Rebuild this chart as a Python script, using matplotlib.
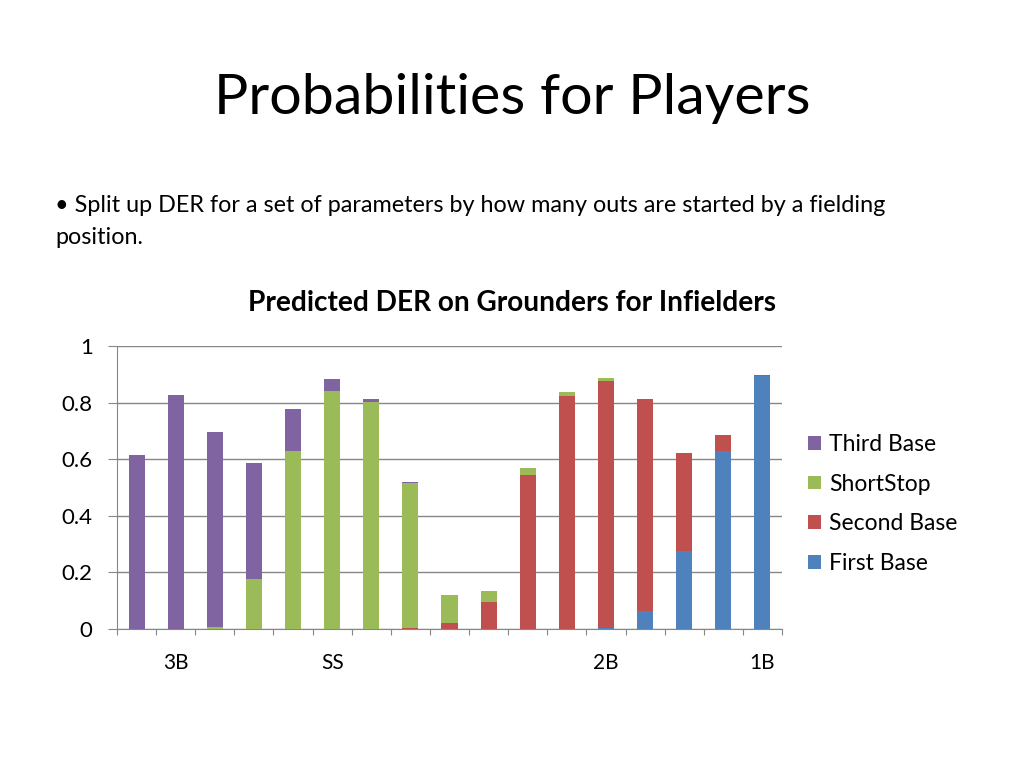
import matplotlib
matplotlib.use("Agg")
import matplotlib.pyplot as plt
import numpy as np

plt.rcParams['font.family'] = ['Lato', 'DejaVu Sans']

# bar values, one per fielding position group (stacked bottom to top)
first_base = [0, 0, 0, 0, 0, 0, 0, 0, 0, 0, 0, 0, 0.005, 0.065, 0.275, 0.630, 0.895]
second_base = [0, 0, 0, 0, 0, 0, 0, 0.005, 0.022, 0.095, 0.545, 0.825, 0.873, 0.748, 0.347, 0.055, 0.004]
shortstop = [0, 0, 0.007, 0.177, 0.629, 0.841, 0.802, 0.510, 0.098, 0.040, 0.023, 0.013, 0.008, 0, 0, 0, 0]
third_base = [0.615, 0.827, 0.689, 0.410, 0.148, 0.042, 0.011, 0.005, 0, 0, 0, 0, 0, 0, 0, 0, 0]
tick_labels = ['', '3B', '', '', '', 'SS', '', '', '', '', '', '', '2B', '', '', '', '1B']

series = [
    ('First Base', first_base, '#4F81BD'),
    ('Second Base', second_base, '#C0504D'),
    ('ShortStop', shortstop, '#9BBB59'),
    ('Third Base', third_base, '#8064A2'),
]

fig = plt.figure(figsize=(10.24, 7.68), dpi=100)
ax = fig.add_axes([117 / 1024, 1 - 629 / 768, 665 / 1024, 283 / 768])

x = np.arange(len(first_base))
bottom = np.zeros(len(x))
handles = []
for name, vals, color in series:
    b = ax.bar(x, vals, width=0.41, bottom=bottom, color=color, label=name, zorder=3)
    handles.append(b)
    bottom += np.array(vals)

ax.set_xlim(-0.5, len(x) - 0.5)
ax.set_ylim(0, 1)
ax.set_yticks([0, 0.2, 0.4, 0.6, 0.8, 1])
ax.set_yticklabels(['0', '0.2', '0.4', '0.6', '0.8', '1'])
ax.yaxis.grid(True, color='#878787', linewidth=1, zorder=0)

# category boundaries as tick marks, labels at category centres
ax.set_xticks(np.arange(-0.5, len(x), 1))
ax.set_xticklabels([])
ax.set_xticks(x, minor=True)
ax.set_xticklabels(tick_labels, minor=True)
ax.tick_params(axis='x', which='major', length=4.5, color='#878787', direction='out')
ax.tick_params(axis='x', which='minor', length=0, labelsize=15, pad=17)
ax.tick_params(axis='y', length=6.5, color='#878787', labelsize=16, pad=11)

for s in ['top', 'right']:
    ax.spines[s].set_visible(False)
for s in ['left', 'bottom']:
    ax.spines[s].set_color('#878787')

ax.legend(handles[::-1], [h.get_label() for h in handles[::-1]],
          loc='center left', bbox_to_anchor=(808 / 1024, 1 - 504 / 768),
          bbox_transform=fig.transFigure, frameon=False, fontsize=16.5,
          borderpad=0, borderaxespad=0,
          handlelength=0.56, handleheight=0.56, handletextpad=0.35, labelspacing=0.82)

fig.text(0.5, 1 - 98 / 768, 'Probabilities for Players', ha='center', va='center', fontsize=41.3)
fig.text(55 / 1024, 1 - 205 / 768, '\u2022 Split up DER for a set of parameters by how many outs are started by a fielding',
         ha='left', va='center', fontsize=16.8)
fig.text(55 / 1024, 1 - 237 / 768, 'position.', ha='left', va='center', fontsize=16.8)
fig.text(512 / 1024, 1 - 303 / 768, 'Predicted DER on Grounders for Infielders',
         ha='center', va='center', fontsize=20.2, fontweight='bold')

fig.savefig('out.png', dpi=100)
